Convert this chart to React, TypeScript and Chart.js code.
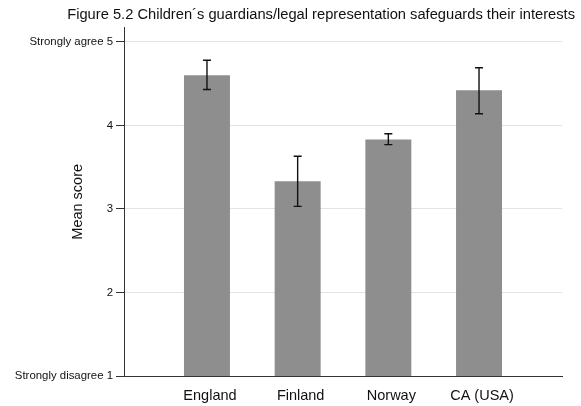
import React, { useEffect, useRef } from "react";
import { Chart, registerables } from "chart.js";

Chart.register(...registerables);

const chartTitle = "Figure 5.2 Children\u00B4s guardians/legal representation safeguards their interests";
const yAxisTitle = "Mean score";
const categories = ["England", "Finland", "Norway", "CA (USA)"];
const meanScores = [4.6, 3.33, 3.83, 4.42];
const ciLow = [4.43, 3.03, 3.77, 4.14];
const ciHigh = [4.78, 3.63, 3.9, 4.69];
const yTickValues = [1, 2, 3, 4, 5];
const yTickLabels = ["Strongly disagree 1", "2", "3", "4", "Strongly agree 5"];

const FONT = "'Liberation Sans', Arial, sans-serif";

const errorBarPlugin = {
  id: "errorBars",
  afterDatasetsDraw(chart: any) {
    const meta = chart.getDatasetMeta(0);
    const yScale = chart.scales.y;
    const ctx = chart.ctx;
    ctx.save();
    ctx.strokeStyle = "#111";
    ctx.lineWidth = 1.4;
    meta.data.forEach((bar: any, i: number) => {
      const x = bar.x;
      const yLo = yScale.getPixelForValue(ciLow[i]);
      const yHi = yScale.getPixelForValue(ciHigh[i]);
      ctx.beginPath();
      ctx.moveTo(x, yLo);
      ctx.lineTo(x, yHi);
      ctx.moveTo(x - 4, yLo);
      ctx.lineTo(x + 4, yLo);
      ctx.moveTo(x - 4, yHi);
      ctx.lineTo(x + 4, yHi);
      ctx.stroke();
    });
    ctx.restore();
  },
};

const yTitlePlugin = {
  id: "yTitle",
  afterDraw(chart: any) {
    const { ctx, chartArea } = chart;
    ctx.save();
    ctx.translate(chartArea.left - 46, (chartArea.top + chartArea.bottom) / 2);
    ctx.rotate(-Math.PI / 2);
    ctx.textAlign = "center";
    ctx.textBaseline = "middle";
    ctx.fillStyle = "#111";
    ctx.font = `14.5px ${FONT}`;
    ctx.fillText(yAxisTitle, 0, 0);
    ctx.restore();
  },
};

export default function App() {
  const canvasRef = useRef<HTMLCanvasElement | null>(null);

  useEffect(() => {
    if (!canvasRef.current) return;
    const chart = new Chart(canvasRef.current, {
      type: "bar",
      data: {
        datasets: [
          {
            data: meanScores.map((v, i) => ({ x: i, y: v })),
            backgroundColor: "#8e8e8e",
            borderWidth: 0,
            barPercentage: 0.507,
            categoryPercentage: 1,
          },
        ],
      },
      plugins: [errorBarPlugin, yTitlePlugin],
      options: {
        animation: false,
        responsive: true,
        maintainAspectRatio: false,
        layout: { padding: { top: 0, right: 6, bottom: 0, left: 0 } },
        plugins: {
          legend: { display: false },
          tooltip: { enabled: false },
          title: {
            display: true,
            text: chartTitle,
            align: "end",
            color: "#111",
            font: { family: FONT, size: 14.7, weight: "normal" },
            padding: { top: 6, bottom: 4 },
          },
        },
        scales: {
          x: {
            type: "linear",
            offset: false,
            min: -0.915,
            max: 3.915,
            afterBuildTicks: (s: any) => {
              s.ticks = categories.map((_, i) => ({ value: i }));
            },
            afterFit: (s: any) => {
              s.height = 30;
            },
            ticks: {
              callback: (v: any) => categories[v as number],
              color: "#111",
              font: { family: FONT, size: 14.5 },
              padding: 11,
              labelOffset: 3,
              autoSkip: false,
              maxRotation: 0,
            },
            grid: { display: false, drawTicks: false, offset: false },
            border: { display: true, color: "#333", width: 1 },
          },
          y: {
            min: 1,
            max: 5.17,
            afterBuildTicks: (s: any) => {
              s.ticks = yTickValues.map((v) => ({ value: v }));
            },
            afterFit: (s: any) => {
              s.width = 124;
            },
            ticks: {
              callback: (v: any) => yTickLabels[yTickValues.indexOf(v as number)],
              color: "#111",
              font: { family: FONT, size: 11.4 },
              padding: 3,
            },
            grid: { color: "#e3e3e3", tickColor: "#333", tickLength: 8 },
            border: { display: true, color: "#333", width: 1 },
          },
          y2: {
            position: "right",
            display: true,
            afterFit: (s: any) => {
              s.width = 13;
            },
            grid: { display: false, drawTicks: false },
            ticks: { display: false },
            border: { display: false },
          },
        },
      } as any,
    });
    return () => chart.destroy();
  }, []);

  return (
    <div style={{ position: "fixed", left: 0, top: 0, width: 581, height: 406, background: "#fff" }}>
      <canvas ref={canvasRef} />
    </div>
  );
}
